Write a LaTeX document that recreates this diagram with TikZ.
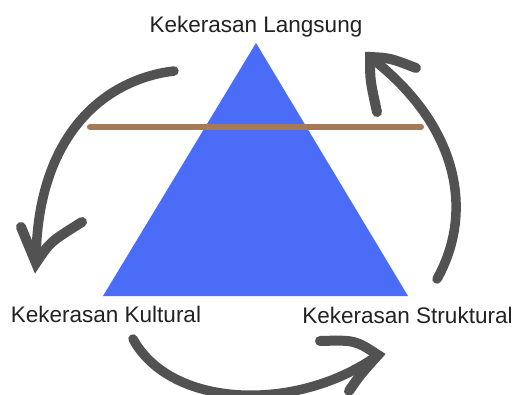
\documentclass[tikz,border=0pt]{standalone}
\usepackage{fontspec}
\setmainfont{Liberation Sans}
\definecolor{triblue}{RGB}{74,108,247}
\definecolor{barbrown}{RGB}{166,122,86}
\definecolor{arrowgray}{RGB}{82,82,82}
\definecolor{labelgray}{RGB}{34,34,34}
\begin{document}
\begin{tikzpicture}[x=1pt,y=-1pt,
  label/.style={text=labelgray,font=\fontsize{22.5}{27}\selectfont,inner sep=0pt,anchor=base},
  cyclearrow/.style={draw=arrowgray,line width=9.5pt,line cap=round,line join=round},
  headstroke/.style={draw=arrowgray,line width=10pt,line cap=round,line join=miter}]
\useasboundingbox[fill=white] (0,0) rectangle (516,394);
% triangle
\coordinate (apex) at (256,43);
\coordinate (bl) at (103,296);
\coordinate (br) at (408,296);
\fill[triblue] (apex) -- (br) -- (bl) -- cycle;
% brown bar
\coordinate (barL) at (90,127);
\coordinate (barR) at (421,127);
\draw[barbrown,line width=6pt,line cap=round] (barL) -- (barR);
% labels
\node[label] (top) at (256,32) {Kekerasan Langsung};
\node[label] (kul) at (106,322) {Kekerasan Kultural};
\node[label] (str) at (407.5,323) {Kekerasan Struktural};
% left arrow (Langsung -> Kultural)
\coordinate (la) at (174,71);
\coordinate (lt) at (36,263);
\coordinate (lb1) at (21,227);
\coordinate (lb2) at (82,222);
\draw[cyclearrow] (la) .. controls (100,80) and (36,140) .. (lt);
\draw[headstroke] (lb1) .. controls (28,245) .. (lt) .. controls (50,242) .. (lb2);
% bottom arrow (Kultural -> Struktural)
\coordinate (ba) at (133,339);
\coordinate (bt) at (378,355);
\coordinate (bb1) at (320,341);
\coordinate (bb2) at (349,391);
\draw[cyclearrow] (ba) .. controls (172,410) and (300,412) .. (bt);
\draw[headstroke] (bb1) .. controls (355,340) .. (bt) .. controls (360,375) .. (bb2);
% right arrow (Struktural -> Langsung)
\coordinate (ra) at (437,279);
\coordinate (rt) at (370,57);
\coordinate (rb1) at (416,68);
\coordinate (rb2) at (377,112);
\draw[cyclearrow] (ra) .. controls (473,215) and (462,128) .. (rt);
\draw[headstroke] (rb1) .. controls (390,58) .. (rt) .. controls (370,80) .. (rb2);
\end{tikzpicture}
\end{document}
